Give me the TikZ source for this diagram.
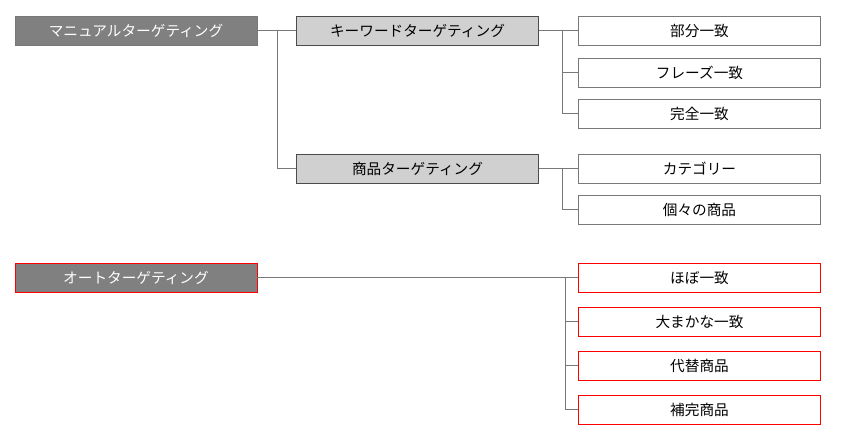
\documentclass[tikz,border=0pt]{standalone}
\usepackage{fontspec}
\setmainfont{Noto Sans CJK JP}
\definecolor{boxgray}{RGB}{128,128,128}
\definecolor{lightbox}{RGB}{208,208,208}
\definecolor{linegray}{RGB}{120,120,120}
\tikzset{
  box/.style={draw=linegray, minimum width=7.26cm, minimum height=0.87cm,
    inner sep=0pt, font=\fontsize{12.5}{14}\selectfont},
  rootbox/.style={box, fill=boxgray, text=white},
  midbox/.style={box, fill=lightbox, draw=black!70},
  leafbox/.style={box, fill=white},
  autoleaf/.style={box, fill=white, draw=red},
  link/.style={draw=linegray, line width=0.6pt}
}
\begin{document}
\begin{tikzpicture}[x=0.03cm, y=-0.03cm]
  \useasboundingbox (0,0) rectangle (856,436);
  % Manuell
  \node[rootbox] (manual) at (136,30.5) {マニュアルターゲティング};
  \node[midbox] (keyword) at (417.5,30.5) {キーワードターゲティング};
  \node[midbox] (product) at (417.5,168.5) {商品ターゲティング};
  \node[leafbox] (partial) at (699.5,30.5) {部分一致};
  \node[leafbox] (phrase) at (699.5,72.5) {フレーズ一致};
  \node[leafbox] (exact) at (699.5,113.5) {完全一致};
  \node[leafbox] (category) at (699.5,168.5) {カテゴリー};
  \node[leafbox] (single) at (699.5,209.5) {個々の商品};
  % Auto
  \node[rootbox, draw=red] (auto) at (136,277.5) {オートターゲティング};
  \node[autoleaf] (close) at (699.5,277.5) {ほぼ一致};
  \node[autoleaf] (loose) at (699.5,321.5) {大まかな一致};
  \node[autoleaf] (subst) at (699.5,365.5) {代替商品};
  \node[autoleaf] (compl) at (699.5,409.5) {補完商品};

  % Verbindungen
  \draw[link] (manual.east) -- (keyword.west);
  \draw[link] (manual.east) -- ++(20,0) |- (product.west);
  \foreach \n in {partial,phrase,exact}
    \draw[link] (keyword.east) -- ++(24,0) |- (\n.west);
  \foreach \n in {category,single}
    \draw[link] (product.east) -- ++(24,0) |- (\n.west);
  \draw[link] (auto.east) -- (close.west);
  \foreach \n in {loose,subst,compl}
    \draw[link] (close.west) ++(-13,0) |- (\n.west);
\end{tikzpicture}
\end{document}
